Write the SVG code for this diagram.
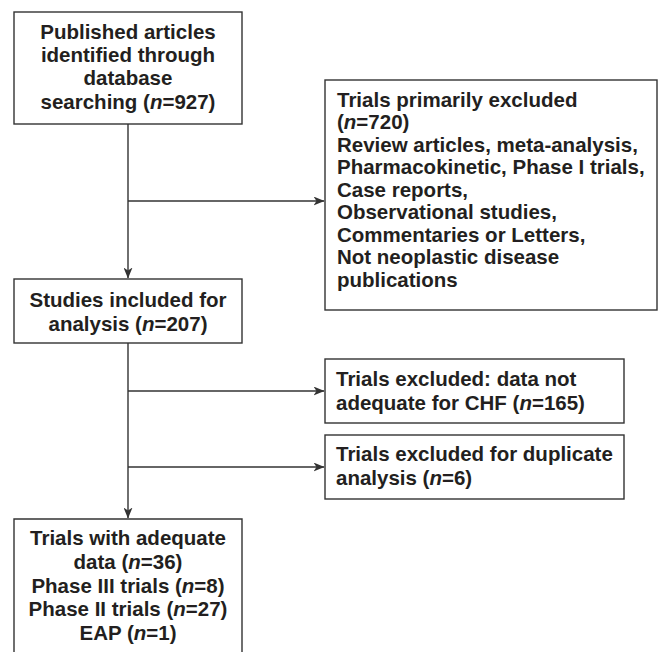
<svg xmlns="http://www.w3.org/2000/svg" width="660" height="652" viewBox="0 0 660 652">
<style>
.box{fill:#fff;stroke:#333;stroke-width:1.4}
.t{font-family:"Liberation Sans",Arial,sans-serif;font-weight:bold;font-size:20.5px;fill:#231f20}
.c{text-anchor:middle}
.ln{fill:none;stroke:#333;stroke-width:1.4}
</style>
<defs>
<marker id="ah" markerWidth="11" markerHeight="9" refX="10.5" refY="4.5" orient="auto" markerUnits="userSpaceOnUse">
<path d="M0,0 L11,4.5 L0,9 L3,4.5 Z" fill="#333"/>
</marker>
</defs>
<rect width="660" height="652" fill="#fff"/>
<g id="connectors">
<line class="ln" x1="128" y1="124" x2="128" y2="278" marker-end="url(#ah)"/>
<line class="ln" x1="128" y1="201" x2="324" y2="201" marker-end="url(#ah)"/>
<line class="ln" x1="128" y1="343" x2="128" y2="518" marker-end="url(#ah)"/>
<line class="ln" x1="128" y1="391" x2="324" y2="391" marker-end="url(#ah)"/>
<line class="ln" x1="128" y1="467" x2="324" y2="467" marker-end="url(#ah)"/>
</g>
<g id="n1">
<rect class="box" x="14" y="12" width="228" height="112"/>
<text class="t c" x="128" y="38.5">Published articles</text>
<text class="t c" x="128" y="62">identified through</text>
<text class="t c" x="128" y="85">database</text>
<text class="t c" x="128" y="108.5">searching (<tspan font-style="italic">n</tspan>=927)</text>
</g>
<g id="n2">
<rect class="box" x="325" y="80" width="332" height="230"/>
<text class="t" x="337" y="106.5">Trials primarily excluded</text>
<text class="t" x="337" y="129">(<tspan font-style="italic">n</tspan>=720)</text>
<text class="t" x="337" y="151.5">Review articles, meta-analysis,</text>
<text class="t" x="337" y="174">Pharmacokinetic, Phase I trials,</text>
<text class="t" x="337" y="196.5">Case reports,</text>
<text class="t" x="337" y="219">Observational studies,</text>
<text class="t" x="337" y="241.5">Commentaries or Letters,</text>
<text class="t" x="337" y="264">Not neoplastic disease</text>
<text class="t" x="337" y="286.5">publications</text>
</g>
<g id="n3">
<rect class="box" x="14" y="279" width="228" height="64"/>
<text class="t c" x="128" y="306.5">Studies included for</text>
<text class="t c" x="128" y="330.5">analysis (<tspan font-style="italic">n</tspan>=207)</text>
</g>
<g id="n4">
<rect class="box" x="325" y="359" width="299" height="64"/>
<text class="t" x="336" y="386">Trials excluded: data not</text>
<text class="t" x="336" y="410">adequate for CHF (<tspan font-style="italic">n</tspan>=165)</text>
</g>
<g id="n5">
<rect class="box" x="325" y="435" width="299" height="64"/>
<text class="t" x="336" y="461">Trials excluded for duplicate</text>
<text class="t" x="336" y="485">analysis (<tspan font-style="italic">n</tspan>=6)</text>
</g>
<g id="n6">
<path class="ln" d="M14,660 V519 H242 V660"/>
<text class="t c" x="128" y="545">Trials with adequate</text>
<text class="t c" x="128" y="568.5">data (<tspan font-style="italic">n</tspan>=36)</text>
<text class="t c" x="128" y="592.5">Phase III trials (<tspan font-style="italic">n</tspan>=8)</text>
<text class="t c" x="128" y="616">Phase II trials (<tspan font-style="italic">n</tspan>=27)</text>
<text class="t c" x="128" y="640">EAP (<tspan font-style="italic">n</tspan>=1)</text>
</g>
</svg>
